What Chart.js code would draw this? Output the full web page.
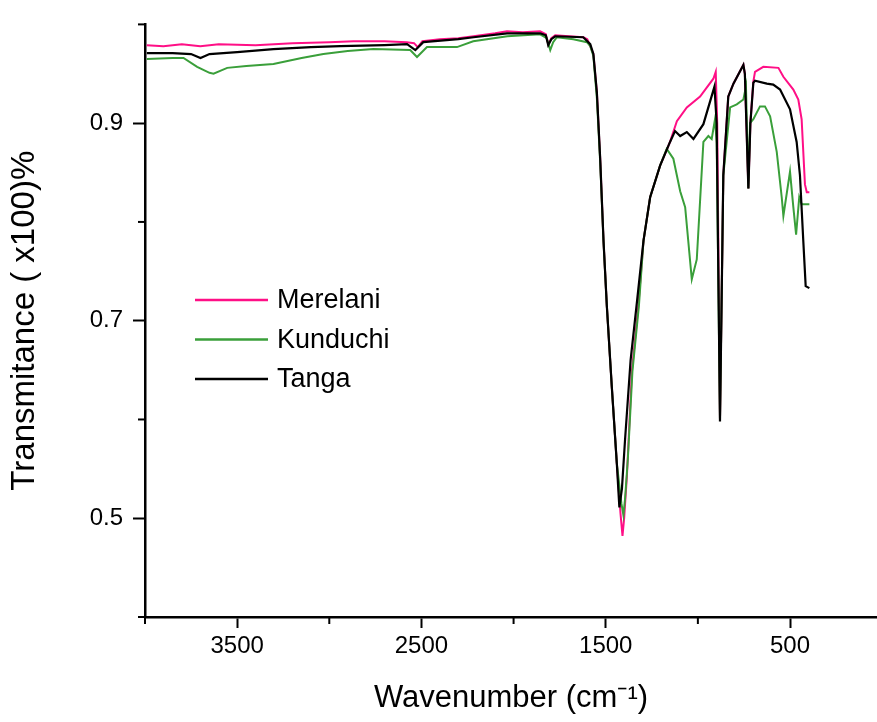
<!DOCTYPE html>
<html>
<head>
<meta charset="utf-8">
<title>FTIR spectra</title>
<script src="https://cdn.jsdelivr.net/npm/chart.js@4.4.0/dist/chart.umd.min.js"></script>
<style>
  body { margin: 0; background: #fff; overflow: hidden; }
  #wrap { width: 877px; height: 722px; }
</style>
</head>
<body>
<div id="wrap"><canvas id="ftirChart" width="877" height="722"></canvas></div>
<script>
// spectra: wavenumber (cm-1) and transmittance
var merelaniWn = [3990, 3900, 3800, 3700, 3600, 3400, 3200, 3000, 2868, 2700, 2580, 2540, 2520, 2495, 2400, 2300, 2217, 2100, 2036, 1950, 1856, 1825, 1812, 1795, 1774, 1700, 1622, 1600, 1584, 1567, 1548, 1530, 1512, 1494, 1467, 1440, 1420, 1409, 1400, 1385, 1358, 1323, 1295, 1259, 1205, 1151, 1114, 1060, 988, 916, 903, 895, 880, 869, 862, 835, 807, 753, 745, 726, 715, 699, 690, 645, 563, 536, 482, 455, 437, 419, 409, 395];
var merelaniT = [0.979, 0.978, 0.980, 0.978, 0.980, 0.979, 0.981, 0.982, 0.983, 0.983, 0.982, 0.981, 0.977, 0.983, 0.985, 0.986, 0.988, 0.991, 0.993, 0.992, 0.993, 0.990, 0.980, 0.986, 0.989, 0.988, 0.987, 0.985, 0.978, 0.970, 0.931, 0.864, 0.781, 0.715, 0.633, 0.556, 0.505, 0.482, 0.500, 0.543, 0.649, 0.715, 0.781, 0.825, 0.857, 0.881, 0.902, 0.916, 0.927, 0.945, 0.952, 0.900, 0.600, 0.750, 0.847, 0.927, 0.940, 0.959, 0.950, 0.834, 0.900, 0.942, 0.952, 0.957, 0.956, 0.947, 0.934, 0.924, 0.904, 0.838, 0.830, 0.830];

var kunduchiWn = [3990, 3850, 3791, 3717, 3650, 3628, 3554, 3450, 3303, 3150, 3032, 2900, 2761, 2561, 2524, 2470, 2307, 2219, 2034, 1856, 1820, 1801, 1785, 1765, 1676, 1602, 1584, 1567, 1548, 1530, 1512, 1494, 1467, 1440, 1415, 1404, 1395, 1380, 1355, 1320, 1295, 1259, 1205, 1169, 1133, 1096, 1069, 1033, 1006, 970, 943, 925, 907, 898, 880, 869, 862, 825, 789, 753, 739, 726, 717, 699, 663, 636, 608, 572, 545, 536, 500, 482, 467, 450, 437, 395];
var kunduchiT = [0.965, 0.966, 0.966, 0.957, 0.951, 0.950, 0.956, 0.958, 0.960, 0.966, 0.970, 0.973, 0.975, 0.974, 0.967, 0.977, 0.977, 0.983, 0.988, 0.990, 0.986, 0.974, 0.982, 0.987, 0.985, 0.982, 0.978, 0.968, 0.925, 0.860, 0.780, 0.715, 0.633, 0.556, 0.515, 0.503, 0.520, 0.560, 0.649, 0.715, 0.781, 0.825, 0.857, 0.874, 0.864, 0.831, 0.815, 0.742, 0.762, 0.881, 0.887, 0.884, 0.904, 0.880, 0.600, 0.750, 0.847, 0.916, 0.919, 0.924, 0.937, 0.834, 0.900, 0.904, 0.917, 0.917, 0.907, 0.871, 0.825, 0.806, 0.851, 0.815, 0.787, 0.825, 0.818, 0.818];

var tangaWn = [3990, 3850, 3750, 3699, 3650, 3500, 3303, 3100, 2940, 2700, 2578, 2533, 2490, 2300, 2217, 2036, 1856, 1825, 1812, 1795, 1774, 1622, 1584, 1567, 1548, 1530, 1512, 1494, 1467, 1440, 1426, 1412, 1395, 1365, 1330, 1295, 1259, 1205, 1151, 1124, 1096, 1060, 1024, 970, 910, 898, 880, 869, 862, 835, 807, 753, 745, 726, 715, 699, 690, 626, 591, 554, 500, 464, 446, 428, 415, 395];
var tangaT = [0.971, 0.971, 0.970, 0.966, 0.970, 0.972, 0.975, 0.977, 0.978, 0.979, 0.980, 0.974, 0.982, 0.985, 0.987, 0.991, 0.991, 0.989, 0.979, 0.985, 0.988, 0.987, 0.980, 0.970, 0.931, 0.864, 0.781, 0.715, 0.633, 0.556, 0.511, 0.530, 0.580, 0.660, 0.720, 0.781, 0.825, 0.857, 0.881, 0.892, 0.887, 0.891, 0.884, 0.899, 0.937, 0.900, 0.598, 0.750, 0.847, 0.927, 0.940, 0.959, 0.950, 0.834, 0.900, 0.941, 0.943, 0.940, 0.939, 0.934, 0.914, 0.881, 0.847, 0.781, 0.735, 0.733];

var seriesNames = ["Merelani", "Kunduchi", "Tanga"];
var seriesColors = ["#ff0f86", "#3a9f3a", "#000000"];

var xTicks = [4000, 3500, 3000, 2500, 2000, 1500, 1000, 500];
var xTickLabels = [3500, 2500, 1500, 500];
var yTicks = [0.4, 0.5, 0.6, 0.7, 0.8, 0.9, 1.0];
var yTickLabels = [0.5, 0.7, 0.9];

var FONT = '"Liberation Sans", Arial, sans-serif';

function toPoints(wn, t) {
    var pts = [];
    for (var i = 0; i < wn.length; i++) {
        pts.push({ x: wn[i], y: t[i] });
    }
    return pts;
}

function isXLabel(v) { return xTickLabels.indexOf(v) >= 0; }
function isYLabel(v) { return yTickLabels.indexOf(Math.round(v * 10) / 10) >= 0; }

// short minor tick marks drawn with the scales' own pixel mapping
var minorTicks = {
    id: 'minorTicks',
    afterDraw: function (chart) {
        var ctx = chart.ctx;
        var xs = chart.scales.x, ys = chart.scales.y;
        var area = chart.chartArea;
        ctx.save();
        ctx.strokeStyle = '#000';
        ctx.lineWidth = 2;
        xTicks.forEach(function (v) {
            if (isXLabel(v)) return;
            var px = xs.getPixelForValue(v);
            ctx.beginPath();
            ctx.moveTo(px, area.bottom);
            ctx.lineTo(px, area.bottom + 7);
            ctx.stroke();
        });
        yTicks.forEach(function (v) {
            if (isYLabel(v)) return;
            var py = ys.getPixelForValue(v);
            ctx.beginPath();
            ctx.moveTo(area.left, py);
            ctx.lineTo(area.left - 7, py);
            ctx.stroke();
        });
        ctx.restore();
    }
};

// legend inside the plot, line sample + name
var insideLegend = {
    id: 'insideLegend',
    afterDraw: function (chart) {
        var ctx = chart.ctx;
        ctx.save();
        ctx.font = '27px ' + FONT;
        ctx.textBaseline = 'middle';
        ctx.fillStyle = '#000';
        chart.data.datasets.forEach(function (ds, i) {
            var y = 300 + i * 39.5;
            ctx.strokeStyle = ds.borderColor;
            ctx.lineWidth = 2.5;
            ctx.beginPath();
            ctx.moveTo(195, y);
            ctx.lineTo(268, y);
            ctx.stroke();
            ctx.fillText(ds.label, 277, y + 1);
        });
        ctx.restore();
    }
};

var ctx = document.getElementById('ftirChart').getContext('2d');
var chart = new Chart(ctx, {
    type: 'line',
    data: {
        datasets: [
            { label: seriesNames[0], data: toPoints(merelaniWn, merelaniT), borderColor: seriesColors[0], borderWidth: 2, order: 3 },
            { label: seriesNames[1], data: toPoints(kunduchiWn, kunduchiT), borderColor: seriesColors[1], borderWidth: 2, order: 2 },
            { label: seriesNames[2], data: toPoints(tangaWn, tangaT), borderColor: seriesColors[2], borderWidth: 2.2, order: 1 }
        ]
    },
    options: {
        responsive: false,
        animation: false,
        parsing: false,
        elements: {
            point: { radius: 0 },
            line: { tension: 0, fill: false }
        },
        layout: {
            padding: { top: 12, right: 0, bottom: 0, left: 0 }
        },
        plugins: {
            legend: { display: false },
            tooltip: { enabled: false }
        },
        scales: {
            x: {
                type: 'linear',
                reverse: true,
                min: 28,
                max: 4000,
                afterBuildTicks: function (scale) {
                    scale.ticks = xTicks.map(function (v) { return { value: v }; });
                },
                afterFit: function (scale) { scale.height = 105; },
                border: { display: true, color: '#000', width: 2.5 },
                grid: {
                    display: true,
                    drawOnChartArea: false,
                    drawTicks: true,
                    tickLength: 11,
                    tickWidth: 2,
                    tickColor: function (c) {
                        return c.tick && isXLabel(c.tick.value) ? '#000' : 'rgba(0,0,0,0)';
                    }
                },
                ticks: {
                    autoSkip: false,
                    maxRotation: 0,
                    padding: 4,
                    color: '#000',
                    font: { family: FONT, size: 24 },
                    callback: function (v) { return isXLabel(v) ? String(v) : ''; }
                },
                title: {
                    display: true,
                    text: 'Wavenumber (cm\u207B\u00B9)',
                    color: '#000',
                    font: { family: FONT, size: 31 },
                    padding: { top: 0, bottom: 5 }
                }
            },
            y: {
                type: 'linear',
                min: 0.4,
                max: 1.0,
                afterBuildTicks: function (scale) {
                    scale.ticks = yTicks.map(function (v) { return { value: v }; });
                },
                afterFit: function (scale) { scale.width = 145; },
                border: { display: true, color: '#000', width: 2.5 },
                grid: {
                    display: true,
                    drawOnChartArea: false,
                    drawTicks: true,
                    tickLength: 12,
                    tickWidth: 2,
                    tickColor: function (c) {
                        return c.tick && isYLabel(c.tick.value) ? '#000' : 'rgba(0,0,0,0)';
                    }
                },
                ticks: {
                    autoSkip: false,
                    padding: 10,
                    color: '#000',
                    font: { family: FONT, size: 24 },
                    callback: function (v) { return isYLabel(v) ? (Math.round(v * 10) / 10).toFixed(1) : ''; }
                },
                title: {
                    display: true,
                    text: 'Transmitance ( x100)%',
                    color: '#000',
                    font: { family: FONT, size: 33 },
                    padding: { top: 5, bottom: 0 }
                }
            }
        }
    },
    plugins: [minorTicks, insideLegend]
});
</script>
</body>
</html>
